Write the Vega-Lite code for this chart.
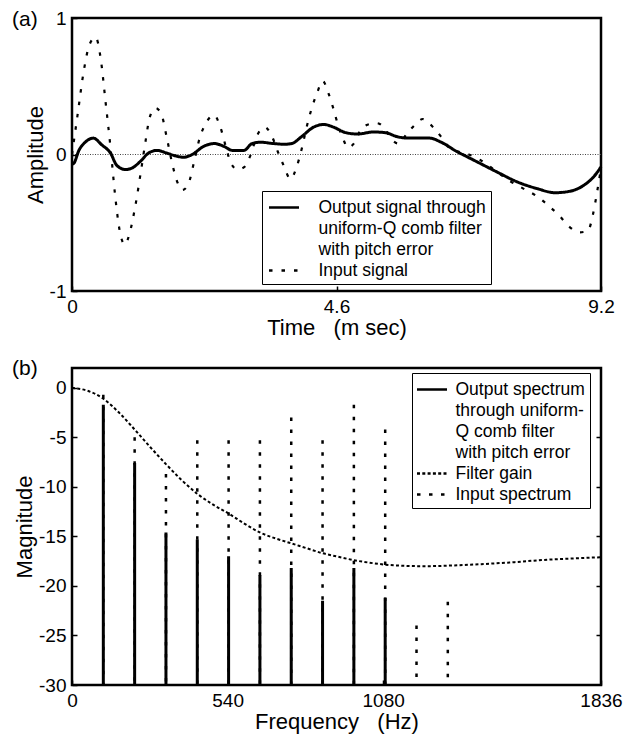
{
  "$schema": "https://vega.github.io/schema/vega-lite/v6.json",
  "padding": {"left": 10, "top": 7, "right": 4, "bottom": 4},
  "spacing": 16,
  "resolve": {"scale": {"strokeDash": "independent"}, "legend": {"strokeDash": "independent"}},
  "config": {
    "font": "Liberation Sans",
    "view": {"stroke": "black", "strokeWidth": 2.5},
    "axis": {
      "domain": false, "grid": false, "ticks": true, "tickSize": -5, "tickColor": "black", "tickWidth": 1.5,
      "labelFontSize": 19, "labelColor": "black", "labelFlush": false, "labelOverlap": false, "labelPadding": 11,
      "labelExpr": "toString(datum.value)",
      "titleFontSize": 22, "titleFontWeight": "normal", "titleColor": "black", "titlePadding": 2
    },
    "axisX": {"labelPadding": 11, "titlePadding": 1},
    "legend": {
      "orient": "none", "strokeColor": "black", "fillColor": "white", "padding": 5,
      "symbolType": "M-1.5,0H1.5", "symbolSize": 400, "symbolStrokeWidth": 2.6, "symbolStrokeColor": "black",
      "labelFontSize": 17.5, "labelColor": "black", "labelLimit": 0, "rowPadding": 1, "title": null
    },
    "title": {"fontSize": 21, "fontWeight": "normal", "color": "black"}
  },
  "vconcat": [
    {
      "title": {"text": "(a)", "anchor": "start", "frame": "group", "orient": "top", "offset": 0, "baseline": "middle", "dx": -60, "dy": 31.5},
      "width": 529,
      "height": 273,
      "data": {"name": "sig", "values": [
        {"s": "out", "t": 0, "v": -0.07}, {"s": "out", "t": 0.03, "v": -0.065}, {"s": "out", "t": 0.12, "v": 0.03},
        {"s": "out", "t": 0.23, "v": 0.09}, {"s": "out", "t": 0.37, "v": 0.12}, {"s": "out", "t": 0.52, "v": 0.07},
        {"s": "out", "t": 0.67, "v": 0.01}, {"s": "out", "t": 0.78, "v": -0.08}, {"s": "out", "t": 0.93, "v": -0.11},
        {"s": "out", "t": 1.04, "v": -0.1}, {"s": "out", "t": 1.19, "v": -0.05}, {"s": "out", "t": 1.33, "v": 0.01},
        {"s": "out", "t": 1.48, "v": 0.03}, {"s": "out", "t": 1.65, "v": 0.01}, {"s": "out", "t": 1.8, "v": -0.01},
        {"s": "out", "t": 1.94, "v": -0.02}, {"s": "out", "t": 2.09, "v": 0.0}, {"s": "out", "t": 2.29, "v": 0.06},
        {"s": "out", "t": 2.48, "v": 0.08}, {"s": "out", "t": 2.64, "v": 0.06}, {"s": "out", "t": 2.79, "v": 0.03},
        {"s": "out", "t": 2.99, "v": 0.03}, {"s": "out", "t": 3.13, "v": 0.08}, {"s": "out", "t": 3.28, "v": 0.09},
        {"s": "out", "t": 3.51, "v": 0.08}, {"s": "out", "t": 3.7, "v": 0.075}, {"s": "out", "t": 3.82, "v": 0.08},
        {"s": "out", "t": 3.99, "v": 0.13}, {"s": "out", "t": 4.2, "v": 0.2}, {"s": "out", "t": 4.38, "v": 0.22},
        {"s": "out", "t": 4.55, "v": 0.2}, {"s": "out", "t": 4.76, "v": 0.16}, {"s": "out", "t": 4.97, "v": 0.15},
        {"s": "out", "t": 5.24, "v": 0.165}, {"s": "out", "t": 5.45, "v": 0.16}, {"s": "out", "t": 5.66, "v": 0.13},
        {"s": "out", "t": 5.87, "v": 0.12}, {"s": "out", "t": 6.22, "v": 0.12}, {"s": "out", "t": 6.42, "v": 0.09},
        {"s": "out", "t": 6.7, "v": 0.02}, {"s": "out", "t": 6.84, "v": -0.01}, {"s": "out", "t": 7.05, "v": -0.055},
        {"s": "out", "t": 7.4, "v": -0.13}, {"s": "out", "t": 7.74, "v": -0.2}, {"s": "out", "t": 8.09, "v": -0.25},
        {"s": "out", "t": 8.4, "v": -0.28}, {"s": "out", "t": 8.65, "v": -0.27}, {"s": "out", "t": 8.92, "v": -0.22},
        {"s": "out", "t": 9.08, "v": -0.16}, {"s": "out", "t": 9.2, "v": -0.09},
        {"s": "in", "t": 0, "v": 0.0}, {"s": "in", "t": 0.1, "v": 0.3}, {"s": "in", "t": 0.2, "v": 0.6},
        {"s": "in", "t": 0.3, "v": 0.8}, {"s": "in", "t": 0.41, "v": 0.86}, {"s": "in", "t": 0.5, "v": 0.7},
        {"s": "in", "t": 0.58, "v": 0.4}, {"s": "in", "t": 0.67, "v": 0.05}, {"s": "in", "t": 0.75, "v": -0.3},
        {"s": "in", "t": 0.83, "v": -0.56}, {"s": "in", "t": 0.92, "v": -0.66}, {"s": "in", "t": 1.0, "v": -0.58},
        {"s": "in", "t": 1.1, "v": -0.38}, {"s": "in", "t": 1.2, "v": -0.12}, {"s": "in", "t": 1.28, "v": 0.1},
        {"s": "in", "t": 1.35, "v": 0.27}, {"s": "in", "t": 1.45, "v": 0.34}, {"s": "in", "t": 1.55, "v": 0.3},
        {"s": "in", "t": 1.65, "v": 0.12}, {"s": "in", "t": 1.75, "v": -0.08}, {"s": "in", "t": 1.83, "v": -0.2},
        {"s": "in", "t": 1.92, "v": -0.26}, {"s": "in", "t": 2.02, "v": -0.22}, {"s": "in", "t": 2.12, "v": -0.06},
        {"s": "in", "t": 2.22, "v": 0.12}, {"s": "in", "t": 2.33, "v": 0.23}, {"s": "in", "t": 2.47, "v": 0.29},
        {"s": "in", "t": 2.58, "v": 0.2}, {"s": "in", "t": 2.68, "v": 0.05}, {"s": "in", "t": 2.76, "v": -0.06},
        {"s": "in", "t": 2.88, "v": -0.11}, {"s": "in", "t": 3.0, "v": -0.09}, {"s": "in", "t": 3.1, "v": -0.01},
        {"s": "in", "t": 3.22, "v": 0.14}, {"s": "in", "t": 3.35, "v": 0.2}, {"s": "in", "t": 3.47, "v": 0.14},
        {"s": "in", "t": 3.58, "v": 0.02}, {"s": "in", "t": 3.68, "v": -0.08}, {"s": "in", "t": 3.8, "v": -0.18},
        {"s": "in", "t": 3.9, "v": -0.1}, {"s": "in", "t": 4.0, "v": 0.05}, {"s": "in", "t": 4.08, "v": 0.2},
        {"s": "in", "t": 4.17, "v": 0.34}, {"s": "in", "t": 4.27, "v": 0.46}, {"s": "in", "t": 4.36, "v": 0.54},
        {"s": "in", "t": 4.45, "v": 0.46}, {"s": "in", "t": 4.55, "v": 0.33}, {"s": "in", "t": 4.63, "v": 0.21},
        {"s": "in", "t": 4.71, "v": 0.12}, {"s": "in", "t": 4.8, "v": 0.05}, {"s": "in", "t": 4.9, "v": 0.08},
        {"s": "in", "t": 5.02, "v": 0.18}, {"s": "in", "t": 5.15, "v": 0.22}, {"s": "in", "t": 5.3, "v": 0.23},
        {"s": "in", "t": 5.44, "v": 0.19}, {"s": "in", "t": 5.56, "v": 0.11}, {"s": "in", "t": 5.68, "v": 0.08},
        {"s": "in", "t": 5.82, "v": 0.15}, {"s": "in", "t": 5.97, "v": 0.22}, {"s": "in", "t": 6.1, "v": 0.26},
        {"s": "in", "t": 6.28, "v": 0.2}, {"s": "in", "t": 6.42, "v": 0.13}, {"s": "in", "t": 6.56, "v": 0.05},
        {"s": "in", "t": 6.73, "v": 0.02}, {"s": "in", "t": 6.9, "v": 0.0}, {"s": "in", "t": 7.1, "v": -0.04},
        {"s": "in", "t": 7.4, "v": -0.13}, {"s": "in", "t": 7.6, "v": -0.19}, {"s": "in", "t": 7.85, "v": -0.25},
        {"s": "in", "t": 8.1, "v": -0.31}, {"s": "in", "t": 8.3, "v": -0.38}, {"s": "in", "t": 8.48, "v": -0.45},
        {"s": "in", "t": 8.65, "v": -0.53}, {"s": "in", "t": 8.82, "v": -0.57}, {"s": "in", "t": 8.97, "v": -0.56},
        {"s": "in", "t": 9.06, "v": -0.44}, {"s": "in", "t": 9.13, "v": -0.28}, {"s": "in", "t": 9.2, "v": -0.1}
      ]},
      "layer": [
        {
          "data": {"values": [{}]},
          "mark": {"type": "rule", "strokeDash": [1, 1.5], "strokeWidth": 1, "color": "#444"},
          "encoding": {"y": {"datum": 0, "type": "quantitative"}}
        },
        {
          "transform": [{"filter": "datum.s == 'in'"}],
          "mark": {"type": "line", "color": "black", "strokeWidth": 2.2, "interpolate": "monotone"},
          "encoding": {
            "x": {"field": "t", "type": "quantitative", "scale": {"domain": [0, 9.2], "nice": false, "zero": false},
                  "axis": {"values": [0, 4.6, 9.2], "title": "Time\u00a0\u00a0\u00a0(m sec)"}},
            "y": {"field": "v", "type": "quantitative", "scale": {"domain": [-1, 1], "nice": false},
                  "axis": {"values": [-1, 0, 1], "title": "Amplitude"}},
            "strokeDash": {"field": "s", "type": "nominal",
              "scale": {"domain": ["out", "l2", "l3", "in"], "range": [[1, 0], [0, 100], [0, 100], [3.5, 9]]},
              "legend": {"legendX": 190, "legendY": 173, "labelOffset": 23, "symbolOffset": 5.5,
                "labelExpr": "datum.label == 'out' ? 'Output signal through' : datum.label == 'l2' ? 'uniform-Q comb filter' : datum.label == 'l3' ? 'with pitch error' : 'Input signal'"}}
          }
        },
        {
          "transform": [{"filter": "datum.s == 'out'"}],
          "mark": {"type": "line", "color": "black", "strokeWidth": 3, "interpolate": "monotone"},
          "encoding": {
            "x": {"field": "t", "type": "quantitative"},
            "y": {"field": "v", "type": "quantitative"},
            "strokeDash": {"field": "s", "type": "nominal"}
          }
        }
      ]
    },
    {
      "title": {"text": "(b)", "anchor": "start", "frame": "group", "orient": "top", "offset": 0, "baseline": "middle", "dx": -60, "dy": 22},
      "width": 529,
      "height": 317,
      "data": {"values": [
        {"s": "in", "f": 108.7, "v": -0.7}, {"s": "in", "f": 217.4, "v": -5.0}, {"s": "in", "f": 326.1, "v": -8.7},
        {"s": "in", "f": 434.8, "v": -5.3}, {"s": "in", "f": 543.5, "v": -5.3}, {"s": "in", "f": 652.2, "v": -5.3},
        {"s": "in", "f": 760.9, "v": -3.0}, {"s": "in", "f": 869.6, "v": -5.3}, {"s": "in", "f": 978.3, "v": -1.7},
        {"s": "in", "f": 1087, "v": -4.2}, {"s": "in", "f": 1195.7, "v": -24.0}, {"s": "in", "f": 1304.3, "v": -21.6},
        {"s": "out", "f": 108.7, "v": -1.7}, {"s": "out", "f": 217.4, "v": -7.6}, {"s": "out", "f": 326.1, "v": -14.6},
        {"s": "out", "f": 434.8, "v": -15.3}, {"s": "out", "f": 543.5, "v": -17.0}, {"s": "out", "f": 652.2, "v": -18.9},
        {"s": "out", "f": 760.9, "v": -18.2}, {"s": "out", "f": 869.6, "v": -21.5}, {"s": "out", "f": 978.3, "v": -18.2},
        {"s": "out", "f": 1087, "v": -21.2},
        {"s": "gain", "f": 0, "v": 0}, {"s": "gain", "f": 54, "v": -0.3}, {"s": "gain", "f": 108.7, "v": -1.1},
        {"s": "gain", "f": 163, "v": -2.5}, {"s": "gain", "f": 217, "v": -4.2}, {"s": "gain", "f": 272, "v": -6.0},
        {"s": "gain", "f": 326, "v": -7.7}, {"s": "gain", "f": 380, "v": -9.3}, {"s": "gain", "f": 435, "v": -10.7},
        {"s": "gain", "f": 490, "v": -11.8}, {"s": "gain", "f": 544, "v": -12.7}, {"s": "gain", "f": 598, "v": -13.7},
        {"s": "gain", "f": 652, "v": -14.6}, {"s": "gain", "f": 706, "v": -15.2}, {"s": "gain", "f": 761, "v": -15.7},
        {"s": "gain", "f": 815, "v": -16.2}, {"s": "gain", "f": 870, "v": -16.7}, {"s": "gain", "f": 924, "v": -17.05},
        {"s": "gain", "f": 978, "v": -17.4}, {"s": "gain", "f": 1032, "v": -17.65}, {"s": "gain", "f": 1087, "v": -17.85},
        {"s": "gain", "f": 1141, "v": -17.95}, {"s": "gain", "f": 1196, "v": -18.0}, {"s": "gain", "f": 1250, "v": -18.0},
        {"s": "gain", "f": 1304, "v": -17.95}, {"s": "gain", "f": 1420, "v": -17.8}, {"s": "gain", "f": 1536, "v": -17.6},
        {"s": "gain", "f": 1650, "v": -17.35}, {"s": "gain", "f": 1760, "v": -17.2}, {"s": "gain", "f": 1836, "v": -17.1}
      ]},
      "resolve": {"axis": {"y": "independent"}},
      "layer": [
        {
          "transform": [{"filter": "datum.s == 'in'"}],
          "mark": {"type": "rule", "color": "black", "strokeWidth": 2.5},
          "encoding": {
            "x": {"field": "f", "type": "quantitative", "scale": {"domain": [0, 1836], "nice": false, "zero": false},
                  "axis": {"values": [0, 540, 1080, 1836], "title": "Frequency\u00a0\u00a0\u00a0(Hz)"}},
            "y": {"field": "v", "type": "quantitative", "scale": {"domain": [-30, 2], "nice": false},
                  "axis": {"values": [-30, -25, -20, -15, -10, -5, 0], "title": "Magnitude"}},
            "y2": {"datum": -30},
            "strokeDash": {"field": "s", "type": "nominal",
              "scale": {"domain": ["out", "l2", "l3", "l4", "gain", "in"], "range": [[1, 0], [0, 100], [0, 100], [0, 100], [3, 2.3], [3.5, 8.5]]},
              "legend": {"legendX": 340, "legendY": 5, "labelOffset": 12, "symbolOffset": 3.5,
                "labelExpr": "datum.label == 'out' ? 'Output spectrum' : datum.label == 'l2' ? 'through uniform-' : datum.label == 'l3' ? 'Q comb filter' : datum.label == 'l4' ? 'with pitch error' : datum.label == 'gain' ? 'Filter gain' : 'Input spectrum'"}}
          }
        },
        {
          "transform": [{"filter": "datum.s == 'out'"}],
          "mark": {"type": "rule", "color": "black", "strokeWidth": 3},
          "encoding": {
            "x": {"field": "f", "type": "quantitative"},
            "y": {"field": "v", "type": "quantitative",
                  "axis": {"orient": "right", "values": [-25, -20, -15, -10, -5], "labels": false, "title": null}},
            "y2": {"datum": -30},
            "strokeDash": {"field": "s", "type": "nominal"}
          }
        },
        {
          "transform": [{"filter": "datum.s == 'gain'"}],
          "mark": {"type": "line", "color": "black", "strokeWidth": 2, "interpolate": "monotone"},
          "encoding": {
            "x": {"field": "f", "type": "quantitative"},
            "y": {"field": "v", "type": "quantitative", "axis": null},
            "strokeDash": {"field": "s", "type": "nominal"}
          }
        }
      ]
    }
  ]
}
